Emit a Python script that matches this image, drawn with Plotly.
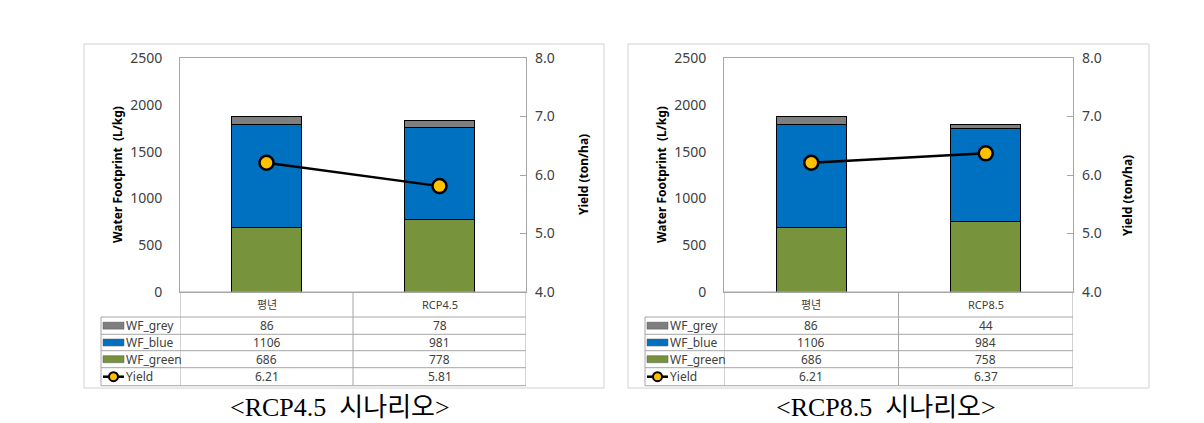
import plotly.graph_objects as go

W, H = 1204, 423

# ---------------- data ----------------
categories_45 = ["평년", "RCP4.5"]
categories_85 = ["평년", "RCP8.5"]
wf_grey_45 = [86, 78]
wf_blue_45 = [1106, 981]
wf_green_45 = [686, 778]
yield_45 = [6.21, 5.81]
wf_grey_85 = [86, 44]
wf_blue_85 = [1106, 984]
wf_green_85 = [686, 758]
yield_85 = [6.21, 6.37]
captions = ["<RCP4.5&nbsp; 시나리오>", "<RCP8.5&nbsp; 시나리오>"]
wf_ticks = [0, 500, 1000, 1500, 2000, 2500]
yield_ticks = [4.0, 5.0, 6.0, 7.0, 8.0]

C_GREY = "#7f7f7f"
C_BLUE = "#0070c0"
C_GREEN = "#77933c"
C_GOLD = "#ffc000"
GRID = "#a6a6a6"
TXT = "#404040"
FONT = "Noto Sans, Noto Sans CJK KR, sans-serif"


def px(x):
    return x / W


def py(y):
    return 1 - y / H


panels = [
    dict(cats=categories_45, grey=wf_grey_45, blue=wf_blue_45, green=wf_green_45, yld=yield_45,
         box=(84, 44, 604, 388), plot=(180, 58, 526, 292), tleft=101,
         ytx=117, y2tx=583, y2ty=175, capx=340, cap=captions[0]),
    dict(cats=categories_85, grey=wf_grey_85, blue=wf_blue_85, green=wf_green_85, yld=yield_85,
         box=(628, 44, 1149, 388), plot=(724, 58, 1073, 292), tleft=645,
         ytx=661, y2tx=1127, y2ty=196, capx=886, cap=captions[1]),
]

row_bounds = [292, 317, 334.3, 350.7, 367.7, 385.7]

fig = go.Figure()
shapes = []
annotations = []
layout = {}

for i, p in enumerate(panels):
    xa = "x" if i == 0 else "x2"
    ya1 = "y" if i == 0 else "y3"
    ya2 = "y2" if i == 0 else "y4"
    xkey = "xaxis" if i == 0 else "xaxis2"
    y1key = "yaxis" if i == 0 else "yaxis3"
    y2key = "yaxis2" if i == 0 else "yaxis4"
    L, T, R, B = p["plot"]

    for name, vals, col in [("WF_green", p["green"], C_GREEN),
                            ("WF_blue", p["blue"], C_BLUE),
                            ("WF_grey", p["grey"], C_GREY)]:
        fig.add_trace(go.Bar(x=p["cats"], y=vals, name=name, marker_color=col,
                             marker_line=dict(color="black", width=1),
                             xaxis=xa, yaxis=ya1, showlegend=False))
    fig.add_trace(go.Scatter(x=p["cats"], y=p["yld"], mode="lines+markers", name="Yield",
                             line=dict(color="black", width=2.5),
                             marker=dict(size=14, color=C_GOLD, line=dict(color="black", width=2.5)),
                             xaxis=xa, yaxis=ya2, showlegend=False))

    layout[xkey] = dict(domain=[px(L), px(R)], anchor=ya1, range=[-0.5, 1.5], automargin=False,
                        showticklabels=False, showline=True, linecolor=GRID, mirror=True,
                        ticks="", showgrid=False, zeroline=False, fixedrange=True)
    layout[y1key] = dict(domain=[py(B), py(T)], anchor=xa, range=[0, 2500], tickvals=wf_ticks,
                         automargin=False,
                         showline=True, linecolor=GRID, mirror=True, showgrid=False, zeroline=False,
                         ticks="", ticklabelstandoff=14,
                         tickfont=dict(family=FONT, size=14, color=TXT))
    layout[y2key] = dict(overlaying=ya1, anchor=xa, side="right", range=[4, 8], tickvals=yield_ticks,
                         automargin=False,
                         tickformat=".1f", showgrid=False, zeroline=False, showline=False,
                         ticks="inside", ticklen=6, tickcolor=GRID, ticklabelstandoff=8,
                         tickfont=dict(family=FONT, size=14, color=TXT))

    # panel border
    bx0, by0, bx1, by1 = p["box"]
    shapes.append(dict(type="rect", xref="paper", yref="paper", x0=px(bx0), x1=px(bx1),
                       y0=py(by1), y1=py(by0), line=dict(color="#d0d0d0", width=1)))

    # table lines
    tl = p["tleft"]
    for k, yb in enumerate(row_bounds):
        x0 = L if k == 0 else tl
        shapes.append(dict(type="line", xref="paper", yref="paper", x0=px(x0), x1=px(R),
                           y0=py(yb), y1=py(yb), line=dict(color=GRID, width=1)))
    for xv in [-0.5, 0.5, 1.5]:
        shapes.append(dict(type="line", xref=xa, yref="paper", x0=xv, x1=xv,
                           y0=py(row_bounds[-1]), y1=py(row_bounds[0]), line=dict(color=GRID, width=1)))
    shapes.append(dict(type="line", xref="paper", yref="paper", x0=px(tl), x1=px(tl),
                       y0=py(row_bounds[-1]), y1=py(row_bounds[1]), line=dict(color=GRID, width=1)))

    # header row (categories)
    yc = (row_bounds[0] + row_bounds[1]) / 2
    for c in p["cats"]:
        annotations.append(dict(xref=xa, yref="paper", x=c, y=py(yc), text=c, showarrow=False,
                                xanchor="center", yanchor="middle",
                                font=dict(family=FONT, size=11, color=TXT)))
    rows = [("WF_grey", p["grey"], C_GREY, "{}"), ("WF_blue", p["blue"], C_BLUE, "{}"),
            ("WF_green", p["green"], C_GREEN, "{}"), ("Yield", p["yld"], None, "{:.2f}")]
    for r, (label, vals, col, fmt) in enumerate(rows):
        yt, yb = row_bounds[r + 1], row_bounds[r + 2]
        yc = (yt + yb) / 2
        for c, v in zip(p["cats"], vals):
            annotations.append(dict(xref=xa, yref="paper", x=c, y=py(yc), text=fmt.format(v),
                                    xanchor="center", yanchor="middle",
                                    showarrow=False, font=dict(family=FONT, size=12, color=TXT)))
        annotations.append(dict(xref="paper", yref="paper", x=px(tl + 23), y=py(yc), text=label,
                                xanchor="left", yanchor="middle", showarrow=False,
                                font=dict(family=FONT, size=12, color=TXT)))
        sx0, sx1 = tl + 2, tl + 23
        if col is not None:
            shapes.append(dict(type="rect", xref="paper", yref="paper", x0=px(sx0), x1=px(sx1),
                               y0=py(yc + 3.5), y1=py(yc - 3.5), fillcolor=col,
                               line=dict(color="#595959", width=0.5)))
        else:
            shapes.append(dict(type="line", xref="paper", yref="paper", x0=px(sx0), x1=px(sx1),
                               y0=py(yc), y1=py(yc), line=dict(color="black", width=2.5)))
            cx = (sx0 + sx1) / 2
            shapes.append(dict(type="circle", xref="paper", yref="paper", xsizemode="pixel",
                               ysizemode="pixel", xanchor=px(cx), yanchor=py(yc),
                               x0=-4.5, x1=4.5, y0=-4.5, y1=4.5, fillcolor=C_GOLD,
                               line=dict(color="black", width=2)))

    # axis titles
    annotations.append(dict(xref="paper", yref="paper", x=px(p["ytx"]), y=py((T + B) / 2),
                            xanchor="center", yanchor="middle",
                            text="<b>Water Footprint  (L/kg)</b>", textangle=-90, showarrow=False,
                            font=dict(family=FONT, size=12, color="black")))
    annotations.append(dict(xref="paper", yref="paper", x=px(p["y2tx"]), y=py(p["y2ty"]),
                            xanchor="center", yanchor="middle",
                            text="<b>Yield (ton/ha)</b>", textangle=-90, showarrow=False,
                            font=dict(family=FONT, size=12, color="black")))
    # caption
    annotations.append(dict(xref="paper", yref="paper", x=px(p["capx"]), y=py(407),
                            xanchor="center", yanchor="middle",
                            text=p["cap"], showarrow=False,
                            font=dict(family="Liberation Serif, Noto Sans CJK KR, serif", size=26,
                                      color="black")))

fig.update_layout(width=W, height=H, margin=dict(l=0, r=0, t=0, b=0, autoexpand=False),
                  paper_bgcolor="white", plot_bgcolor="white", barmode="stack", bargap=0.6,
                  shapes=shapes, annotations=annotations, showlegend=False, **layout)

fig.write_html("out.html")
